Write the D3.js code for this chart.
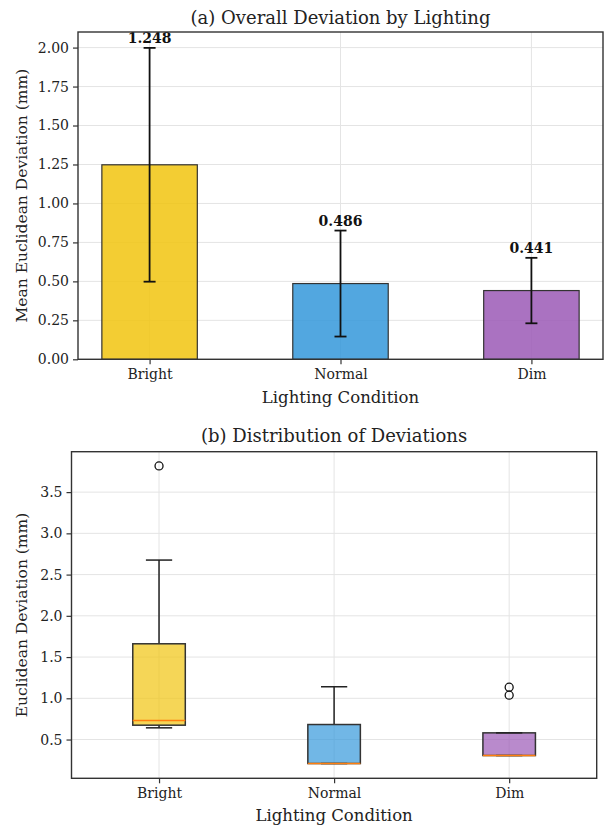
<!DOCTYPE html>
<html>
<head>
<meta charset="utf-8">
<script src="https://cdn.jsdelivr.net/npm/d3@7"></script>
<style>
  body { margin: 0; background: #fff; }
  svg { display: block; font-family: "DejaVu Serif", serif; }
  .grid line { stroke: #e4e4e4; stroke-width: 1; }
  .axis path, .axis line { stroke: #333; stroke-width: 1.2; }
  .axis text { fill: #222; font-size: 14px; font-family: "DejaVu Serif", serif; }
</style>
</head>
<body>
<svg id="chart" width="604" height="827"></svg>
<script>
// data
const conditions = ["Bright", "Normal", "Dim"];
const barColors = ["#f1c40f", "#3498db", "#9b59b6"];
const meanDev = [1.248, 0.486, 0.441];
const stdDev = [0.750, 0.340, 0.210];

const boxQ1 = [0.674, 0.209, 0.306];
const boxMedian = [0.730, 0.209, 0.306];
const boxQ3 = [1.661, 0.682, 0.581];
const whiskerLow = [0.642, 0.209, 0.306];
const whiskerHigh = [2.676, 1.140, 0.581];
const outliers = [[3.817], [], [1.135, 1.038]];

const yTicksA = [0, 0.25, 0.5, 0.75, 1.0, 1.25, 1.5, 1.75, 2.0];
const yTicksB = [0.5, 1.0, 1.5, 2.0, 2.5, 3.0, 3.5];

const svg = d3.select("#chart");

function frame(g, x, y) {
    g.append("rect")
        .attr("x", x.range()[0]).attr("y", y.range()[1])
        .attr("width", x.range()[1] - x.range()[0])
        .attr("height", y.range()[0] - y.range()[1])
        .attr("fill", "none").attr("stroke", "#333").attr("stroke-width", 1.4);
}

function grids(g, x, y, yt) {
    let gr = g.append("g").attr("class", "grid");
    gr.selectAll(".gy").data(yt).join("line")
        .attr("x1", x.range()[0]).attr("x2", x.range()[1])
        .attr("y1", d => y(d)).attr("y2", d => y(d));
    gr.selectAll(".gx").data(conditions).join("line")
        .attr("x1", (d, i) => x(i)).attr("x2", (d, i) => x(i))
        .attr("y1", y.range()[0]).attr("y2", y.range()[1]);
}

function axes(g, x, y, yt, fmt, ylabel, xlabelY, ylabelX) {
    let xa = g.append("g").attr("class", "axis")
        .attr("transform", "translate(0," + y.range()[0] + ")")
        .call(d3.axisBottom(x).tickValues([0, 1, 2]).tickFormat(i => conditions[i]).tickSize(5).tickPadding(5));
    xa.select(".domain").remove();
    let ya = g.append("g").attr("class", "axis")
        .attr("transform", "translate(" + x.range()[0] + ",0)")
        .call(d3.axisLeft(y).tickValues(yt).tickFormat(d3.format(fmt)).tickSize(5).tickPadding(4));
    ya.select(".domain").remove();

    let cx = (x.range()[0] + x.range()[1]) / 2;
    g.append("text")
        .attr("x", cx).attr("y", xlabelY)
        .attr("text-anchor", "middle")
        .style("font-size", "16.5px").attr("fill", "#222")
        .text("Lighting Condition");
    let cy = (y.range()[0] + y.range()[1]) / 2;
    g.append("text")
        .attr("transform", "translate(" + ylabelX + "," + cy + ") rotate(-90)")
        .attr("text-anchor", "middle")
        .style("font-size", "15.5px").attr("fill", "#222")
        .text(ylabel);
}

// ---- panel (a) bar chart ----
const gA = svg.append("g");
const xA = d3.scaleLinear().domain([-0.375, 2.375]).range([78, 603]);
const yA = d3.scaleLinear().domain([0, 2.1]).range([359.3, 32]);

grids(gA, xA, yA, yTicksA);

gA.selectAll(".bar").data(meanDev).join("rect")
    .attr("class", "bar")
    .attr("x", (d, i) => xA(i - 0.25))
    .attr("width", xA(0.25) - xA(-0.25))
    .attr("y", d => yA(d))
    .attr("height", d => yA(0) - yA(d))
    .attr("fill", (d, i) => barColors[i]).attr("fill-opacity", 0.85)
    .attr("stroke", "#333").attr("stroke-width", 1.2);

// error bars
meanDev.forEach((m, i) => {
    let cx = xA(i);
    let e = gA.append("g").attr("stroke", "#111").attr("stroke-width", 1.8);
    e.append("line").attr("x1", cx).attr("x2", cx).attr("y1", yA(m - stdDev[i])).attr("y2", yA(m + stdDev[i]));
    e.append("line").attr("x1", cx - 6).attr("x2", cx + 6).attr("y1", yA(m - stdDev[i])).attr("y2", yA(m - stdDev[i]));
    e.append("line").attr("x1", cx - 6).attr("x2", cx + 6).attr("y1", yA(m + stdDev[i])).attr("y2", yA(m + stdDev[i]));
    gA.append("text")
        .attr("x", cx).attr("y", yA(m + stdDev[i]) - 5)
        .attr("text-anchor", "middle")
        .style("font-size", "14px").style("font-weight", "bold").attr("fill", "#111")
        .text(m.toFixed(3));
});

frame(gA, xA, yA);
axes(gA, xA, yA, yTicksA, ".2f", "Mean Euclidean Deviation (mm)", 403, 27);
gA.append("text")
    .attr("x", (xA.range()[0] + xA.range()[1]) / 2).attr("y", 24)
    .attr("text-anchor", "middle")
    .style("font-size", "18px").attr("fill", "#222")
    .text("(a) Overall Deviation by Lighting");

// ---- panel (b) box plot ----
const gB = svg.append("g");
const xB = d3.scaleLinear().domain([-0.5, 2.5]).range([71.5, 596.7]);
const yB = d3.scaleLinear().domain([0.03, 3.99]).range([778.3, 451.7]);

grids(gB, xB, yB, yTicksB);

conditions.forEach((c, i) => {
    let cx = xB(i);
    let hw = (xB(0.15) - xB(0)); // half box width
    let cw = hw / 2;
    let b = gB.append("g");
    // whiskers
    b.append("line").attr("x1", cx).attr("x2", cx).attr("y1", yB(boxQ3[i])).attr("y2", yB(whiskerHigh[i]))
        .attr("stroke", "#222").attr("stroke-width", 1.5);
    b.append("line").attr("x1", cx).attr("x2", cx).attr("y1", yB(boxQ1[i])).attr("y2", yB(whiskerLow[i]))
        .attr("stroke", "#222").attr("stroke-width", 1.5);
    b.append("rect")
        .attr("x", cx - hw).attr("width", 2 * hw)
        .attr("y", yB(boxQ3[i])).attr("height", yB(boxQ1[i]) - yB(boxQ3[i]))
        .attr("fill", barColors[i]).attr("fill-opacity", 0.7)
        .attr("stroke", "#333").attr("stroke-width", 1.5);
    b.append("line").attr("x1", cx - cw).attr("x2", cx + cw).attr("y1", yB(whiskerHigh[i])).attr("y2", yB(whiskerHigh[i]))
        .attr("stroke", "#222").attr("stroke-width", 1.5);
    b.append("line").attr("x1", cx - cw).attr("x2", cx + cw).attr("y1", yB(whiskerLow[i])).attr("y2", yB(whiskerLow[i]))
        .attr("stroke", "#222").attr("stroke-width", 1.5);
    b.append("line").attr("x1", cx - hw).attr("x2", cx + hw).attr("y1", yB(boxMedian[i])).attr("y2", yB(boxMedian[i]))
        .attr("stroke", "#ff7f0e").attr("stroke-width", 1.6);
    b.selectAll("circle").data(outliers[i]).join("circle")
        .attr("cx", cx).attr("cy", d => yB(d)).attr("r", 4)
        .attr("fill", "none").attr("stroke", "#111").attr("stroke-width", 1.3);
});

frame(gB, xB, yB);
axes(gB, xB, yB, yTicksB, ".1f", "Euclidean Deviation (mm)", 821, 27);
gB.append("text")
    .attr("x", (xB.range()[0] + xB.range()[1]) / 2).attr("y", 442)
    .attr("text-anchor", "middle")
    .style("font-size", "18px").attr("fill", "#222")
    .text("(b) Distribution of Deviations");
</script>
</body>
</html>
